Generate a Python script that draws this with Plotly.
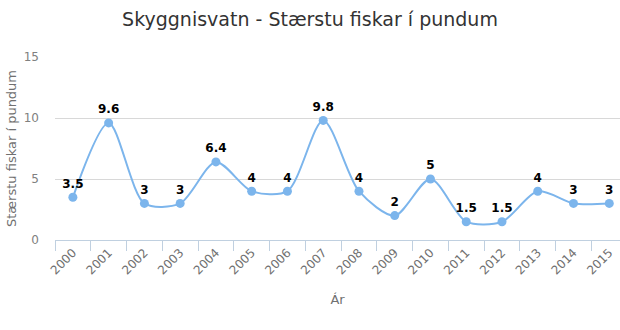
import plotly.graph_objects as go

# Largest fish per year (pounds)
years = ["2000", "2001", "2002", "2003", "2004", "2005", "2006", "2007",
         "2008", "2009", "2010", "2011", "2012", "2013", "2014", "2015"]
largest_fish = [3.5, 9.6, 3, 3, 6.4, 4, 4, 9.8, 4, 2, 5, 1.5, 1.5, 4, 3, 3]
y_ticks = [0, 5, 10, 15]

FONT = "DejaVu Sans"
LINE_COLOR = "#7cb5ec"
AXIS_TEXT = "#707070"

fig = go.Figure(
    go.Scatter(
        x=years,
        y=largest_fish,
        mode="lines+markers+text",
        line=dict(color=LINE_COLOR, width=2, shape="spline", smoothing=0.8),
        marker=dict(color=LINE_COLOR, size=9),
        text=[f"{v:g}" for v in largest_fish],
        textposition="top center",
        textfont=dict(family=FONT, size=12, color="#000000", weight="bold"),
        cliponaxis=False,
        hoverinfo="skip",
    )
)

fig.update_layout(
    width=620,
    height=330,
    margin=dict(l=55, r=0, t=57, b=90),
    paper_bgcolor="white",
    plot_bgcolor="white",
    showlegend=False,
    font=dict(family=FONT, color=AXIS_TEXT),
    title=dict(
        text="Skyggnisvatn - Stærstu fiskar í pundum",
        x=0.5, xanchor="center",
        y=1 - 19 / 330, yanchor="middle",
        font=dict(family=FONT, size=19, color="#333333"),
    ),
)

fig.update_xaxes(
    type="category",
    range=[-0.5, 15.3],
    tickson="boundaries",
    ticks="outside",
    ticklen=10,
    tickcolor="#C0D0E0",
    tickwidth=1,
    showline=True,
    linecolor="#C0D0E0",
    linewidth=1,
    showgrid=False,
    tickangle=-45,
    tickfont=dict(family=FONT, size=12, color=AXIS_TEXT),
    title=dict(text="Ár", font=dict(family=FONT, size=13, color=AXIS_TEXT), standoff=18),
    fixedrange=True,
)

fig.update_yaxes(
    range=[0, 15],
    tickvals=y_ticks,
    showgrid=True,
    gridcolor="#D8D8D8",
    gridwidth=1,
    zeroline=False,
    showline=False,
    ticks="",
    ticklabelstandoff=15,
    tickfont=dict(family=FONT, size=12, color="#808080"),
    title=dict(text="Stærstu fiskar í pundum",
               font=dict(family=FONT, size=13, color=AXIS_TEXT), standoff=4),
    fixedrange=True,
)

fig.write_html("out.html")
